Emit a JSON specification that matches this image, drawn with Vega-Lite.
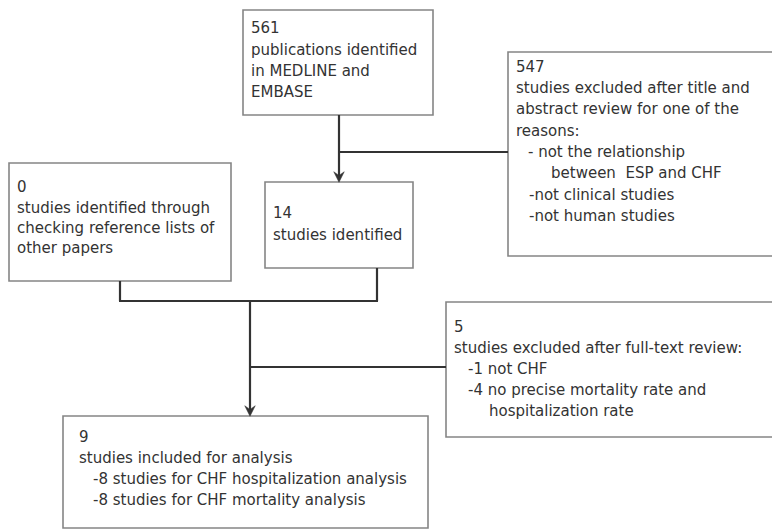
{
  "$schema": "https://vega.github.io/schema/vega-lite/v6.json",
  "width": 772,
  "height": 529,
  "autosize": "none",
  "padding": 0,
  "background": "white",
  "config": {"view": {"stroke": null}},
  "datasets": {
    "boxes": [
      {"id": "b1", "x": 243, "x2": 433, "y": 10, "y2": 115},
      {"id": "b547", "x": 508, "x2": 790, "y": 52, "y2": 256},
      {"id": "b0", "x": 9, "x2": 231, "y": 163, "y2": 281},
      {"id": "b14", "x": 265, "x2": 413, "y": 182, "y2": 268},
      {"id": "b5", "x": 446, "x2": 790, "y": 302, "y2": 437},
      {"id": "b9", "x": 63, "x2": 428, "y": 416, "y2": 528}
    ],
    "links": [
      {"x": 339, "x2": 339, "y": 115, "y2": 179},
      {"x": 339, "x2": 508, "y": 152, "y2": 152},
      {"x": 120, "x2": 120, "y": 281, "y2": 301},
      {"x": 377, "x2": 377, "y": 268, "y2": 301},
      {"x": 119, "x2": 378, "y": 301, "y2": 301},
      {"x": 250, "x2": 250, "y": 301, "y2": 413},
      {"x": 250, "x2": 446, "y": 367, "y2": 367}
    ],
    "arrows": [
      {"x": 339, "y": 177},
      {"x": 250, "y": 411}
    ],
    "labels": [
      {"x": 251, "y": 33, "t": "561"},
      {"x": 251, "y": 55, "t": "publications identified"},
      {"x": 251, "y": 76, "t": "in MEDLINE and"},
      {"x": 251, "y": 97, "t": "EMBASE"},
      {"x": 516, "y": 72, "t": "547"},
      {"x": 516, "y": 93, "t": "studies excluded after title and"},
      {"x": 516, "y": 114, "t": "abstract review for one of the"},
      {"x": 516, "y": 136, "t": "reasons:"},
      {"x": 528, "y": 157, "t": "- not the relationship"},
      {"x": 551, "y": 178, "t": "between\u00a0 ESP and CHF"},
      {"x": 529, "y": 200, "t": "-not clinical studies"},
      {"x": 529, "y": 221, "t": "-not human studies"},
      {"x": 17, "y": 192, "t": "0"},
      {"x": 17, "y": 213, "t": "studies identified through"},
      {"x": 17, "y": 233, "t": "checking reference lists of"},
      {"x": 17, "y": 253, "t": "other papers"},
      {"x": 273, "y": 218, "t": "14"},
      {"x": 273, "y": 240, "t": "studies identified"},
      {"x": 454, "y": 332, "t": "5"},
      {"x": 454, "y": 353, "t": "studies excluded after full-text review:"},
      {"x": 468, "y": 374, "t": "-1 not CHF"},
      {"x": 468, "y": 395, "t": "-4 no precise mortality rate and"},
      {"x": 489, "y": 416, "t": "hospitalization rate"},
      {"x": 79, "y": 442, "t": "9"},
      {"x": 79, "y": 463, "t": "studies included for analysis"},
      {"x": 93, "y": 484, "t": "-8 studies for CHF hospitalization analysis"},
      {"x": 93, "y": 505, "t": "-8 studies for CHF mortality analysis"}
    ]
  },
  "layer": [
    {
      "data": {"name": "boxes"},
      "mark": {"type": "rect", "fill": "white", "stroke": "#858585", "strokeWidth": 1.6, "clip": true},
      "encoding": {
        "x": {"field": "x", "type": "quantitative", "scale": {"domain": [0, 772], "nice": false, "zero": false}, "axis": null},
        "x2": {"field": "x2"},
        "y": {"field": "y", "type": "quantitative", "scale": {"domain": [0, 529], "nice": false, "zero": false, "reverse": true}, "axis": null},
        "y2": {"field": "y2"}
      }
    },
    {
      "data": {"name": "links"},
      "mark": {"type": "rule", "stroke": "#333333", "strokeWidth": 2.2},
      "encoding": {
        "x": {"field": "x", "type": "quantitative"},
        "x2": {"field": "x2"},
        "y": {"field": "y", "type": "quantitative"},
        "y2": {"field": "y2"}
      }
    },
    {
      "data": {"name": "arrows"},
      "mark": {"type": "point", "shape": "M-1,-1L0,1L1,-1L0,-0.3Z", "filled": true, "fill": "#333333", "stroke": "#333333", "strokeWidth": 0.5, "opacity": 1, "size": 110},
      "encoding": {
        "x": {"field": "x", "type": "quantitative"},
        "y": {"field": "y", "type": "quantitative"}
      }
    },
    {
      "data": {"name": "labels"},
      "mark": {"type": "text", "align": "left", "baseline": "alphabetic", "font": "DejaVu Sans", "fontSize": 15, "fill": "#333333"},
      "encoding": {
        "x": {"field": "x", "type": "quantitative"},
        "y": {"field": "y", "type": "quantitative"},
        "text": {"field": "t", "type": "nominal"}
      }
    }
  ]
}
